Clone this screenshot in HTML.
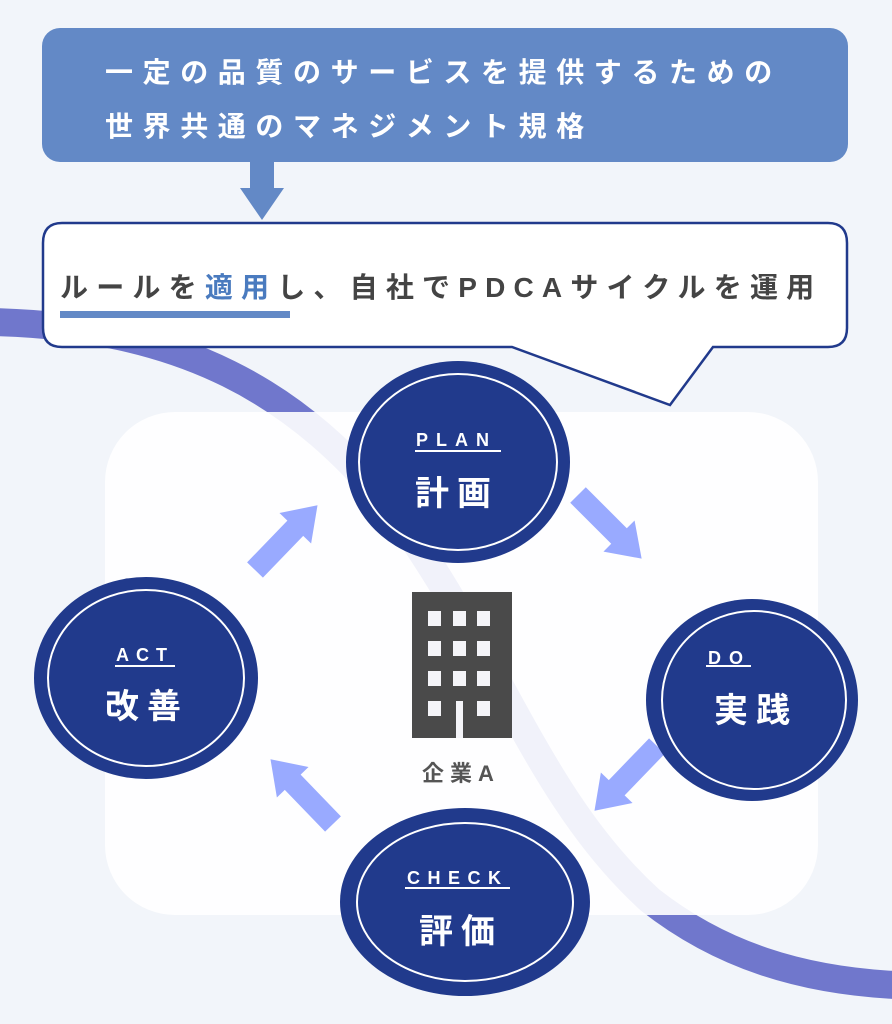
<!DOCTYPE html>
<html><head><meta charset="utf-8"><style>
html,body{margin:0;padding:0;background:#f2f5fa}
svg{display:block}
text{font-family:"Liberation Sans","Noto Sans CJK JP",sans-serif}
</style></head><body>
<svg width="892" height="1024" viewBox="0 0 892 1024" xmlns="http://www.w3.org/2000/svg">
<defs>
<g id="arr"><polygon points="0,-11 58,-11 58,-22 90,0 58,22 58,11 0,11" fill="#99aaff"/></g>
</defs>
<rect width="892" height="1024" fill="#f2f5fa"/>
<path d="M-10,322 C180,326 300,390 400,520 C500,660 540,800 650,900 C720,955 800,980 895,985" fill="none" stroke="#7077cc" stroke-width="28"/>
<rect x="105" y="412" width="713" height="503" rx="70" fill="#ffffff" fill-opacity="0.9"/>
<rect x="42" y="28" width="806" height="134" rx="18" fill="#6389c6"/>
<text x="105" y="82" font-size="28" font-weight="bold" fill="#fff" letter-spacing="9.6">一定の品質のサービスを提供するための</text>
<text x="105" y="136" font-size="28" font-weight="bold" fill="#fff" letter-spacing="9.6">世界共通のマネジメント規格</text>
<rect x="250" y="160" width="24" height="30" fill="#6389c6"/>
<polygon points="240,188 284,188 262,220" fill="#6389c6"/>
<path d="M62,223 H828 Q847,223 847,243 V328 Q847,347 828,347 H713 L670,405 L512,347 H62 Q43,347 43,328 V243 Q43,223 62,223 Z" fill="#fff" stroke="#213a8c" stroke-width="2.5"/>
<text x="60" y="297" font-size="28" font-weight="bold" fill="#444" letter-spacing="8.2">ルールを<tspan fill="#4a7bbf">適用</tspan>し、自社でPDCAサイクルを運用</text>
<rect x="60" y="311" width="230" height="7" fill="#6389c6"/>
<use href="#arr" transform="translate(578,495) rotate(45)"/>
<use href="#arr" transform="translate(657,746) rotate(134)"/>
<use href="#arr" transform="translate(333,824) rotate(-134)"/>
<use href="#arr" transform="translate(255,570) rotate(-46)"/>
<rect x="412" y="592" width="100" height="146" fill="#4a4a4a"/>
<g fill="#f4f4f8">
<rect x="428" y="611" width="13" height="15"/><rect x="453" y="611" width="13" height="15"/><rect x="477" y="611" width="13" height="15"/>
<rect x="428" y="641" width="13" height="15"/><rect x="453" y="641" width="13" height="15"/><rect x="477" y="641" width="13" height="15"/>
<rect x="428" y="671" width="13" height="15"/><rect x="453" y="671" width="13" height="15"/><rect x="477" y="671" width="13" height="15"/>
<rect x="428" y="701" width="13" height="15"/><rect x="477" y="701" width="13" height="15"/>
<rect x="456" y="701" width="7" height="37"/>
</g>
<text x="422" y="781" font-size="22" font-weight="bold" fill="#555" letter-spacing="6">企業A</text>
<g font-weight="bold" fill="#fff">
<ellipse cx="458" cy="462" rx="112" ry="101" fill="#213a8c"/>
<ellipse cx="458" cy="462" rx="99" ry="88" fill="none" stroke="#fff" stroke-width="2"/>
<text x="416" y="446" font-size="18" letter-spacing="8">PLAN</text>
<rect x="415" y="450" width="86" height="2" fill="#fff"/>
<text x="415" y="505" font-size="34" letter-spacing="8">計画</text>

<ellipse cx="752" cy="700" rx="106" ry="101" fill="#213a8c"/>
<ellipse cx="754" cy="700" rx="92" ry="89" fill="none" stroke="#fff" stroke-width="2"/>
<text x="708" y="664" font-size="18" letter-spacing="8">DO</text>
<rect x="706" y="665" width="45" height="2" fill="#fff"/>
<text x="714" y="722" font-size="34" letter-spacing="8">実践</text>

<ellipse cx="146" cy="678" rx="112" ry="101" fill="#213a8c"/>
<ellipse cx="146" cy="678" rx="98" ry="88" fill="none" stroke="#fff" stroke-width="2"/>
<text x="116" y="661" font-size="18" letter-spacing="7">ACT</text>
<rect x="115" y="665" width="60" height="2" fill="#fff"/>
<text x="105" y="718" font-size="34" letter-spacing="8">改善</text>

<ellipse cx="465" cy="902" rx="125" ry="94" fill="#213a8c"/>
<ellipse cx="465" cy="902" rx="108" ry="79" fill="none" stroke="#fff" stroke-width="2"/>
<text x="407" y="884" font-size="18" letter-spacing="7.5">CHECK</text>
<rect x="405" y="887" width="105" height="2" fill="#fff"/>
<text x="419" y="943" font-size="34" letter-spacing="8">評価</text>
</g>
</svg>
</body></html>
